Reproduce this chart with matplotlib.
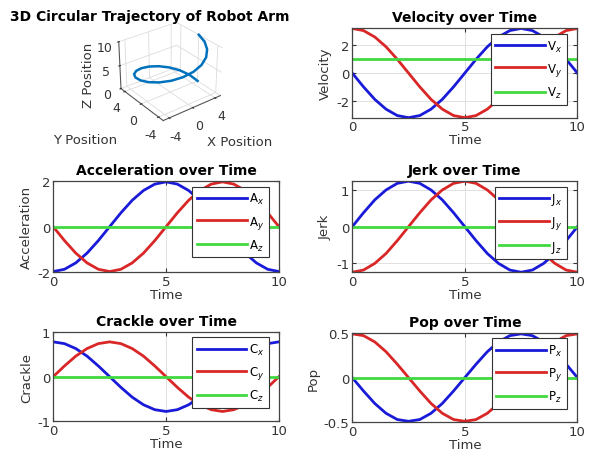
import matplotlib
matplotlib.use("Agg")
import matplotlib.pyplot as plt
from matplotlib.ticker import FormatStrFormatter

# time samples (0..10 s)
time = [0.0, 0.5, 1.0, 1.5, 2.0, 2.5, 3.0, 3.5, 4.0, 4.5, 5.0,
        5.5, 6.0, 6.5, 7.0, 7.5, 8.0, 8.5, 9.0, 9.5, 10.0]

# 3D trajectory
pos_x = [5.0, 4.76, 4.05, 2.94, 1.55, 0.0, -1.55, -2.94, -4.05, -4.76, -5.0,
         -4.76, -4.05, -2.94, -1.55, 0.0, 1.55, 2.94, 4.05, 4.76, 5.0]
pos_y = [0.0, 1.55, 2.94, 4.05, 4.76, 5.0, 4.76, 4.05, 2.94, 1.55, 0.0,
         -1.55, -2.94, -4.05, -4.76, -5.0, -4.76, -4.05, -2.94, -1.55, 0.0]
pos_z = [0.0, 0.5, 1.0, 1.5, 2.0, 2.5, 3.0, 3.5, 4.0, 4.5, 5.0,
         5.5, 6.0, 6.5, 7.0, 7.5, 8.0, 8.5, 9.0, 9.5, 10.0]

# velocity
vel_x = [0.0, -0.97, -1.85, -2.54, -2.99, -3.14, -2.99, -2.54, -1.85, -0.97, 0.0,
         0.97, 1.85, 2.54, 2.99, 3.14, 2.99, 2.54, 1.85, 0.97, 0.0]
vel_y = [3.14, 2.99, 2.54, 1.85, 0.97, 0.0, -0.97, -1.85, -2.54, -2.99, -3.14,
         -2.99, -2.54, -1.85, -0.97, 0.0, 0.97, 1.85, 2.54, 2.99, 3.14]
vel_z = [1.0] * 21

# acceleration
acc_x = [-1.97, -1.87, -1.59, -1.16, -0.61, 0.0, 0.61, 1.16, 1.59, 1.87, 1.97,
         1.87, 1.59, 1.16, 0.61, 0.0, -0.61, -1.16, -1.59, -1.87, -1.97]
acc_y = [0.0, -0.61, -1.16, -1.59, -1.87, -1.97, -1.87, -1.59, -1.16, -0.61, 0.0,
         0.61, 1.16, 1.59, 1.87, 1.97, 1.87, 1.59, 1.16, 0.61, 0.0]
acc_z = [0.0] * 21

# jerk
jerk_x = [0.0, 0.38, 0.73, 1.0, 1.18, 1.24, 1.18, 1.0, 0.73, 0.38, 0.0,
          -0.38, -0.73, -1.0, -1.18, -1.24, -1.18, -1.0, -0.73, -0.38, 0.0]
jerk_y = [-1.24, -1.18, -1.0, -0.73, -0.38, 0.0, 0.38, 0.73, 1.0, 1.18, 1.24,
          1.18, 1.0, 0.73, 0.38, 0.0, -0.38, -0.73, -1.0, -1.18, -1.24]
jerk_z = [0.0] * 21

# crackle
crk_x = [0.78, 0.74, 0.63, 0.46, 0.24, 0.0, -0.24, -0.46, -0.63, -0.74, -0.78,
         -0.74, -0.63, -0.46, -0.24, 0.0, 0.24, 0.46, 0.63, 0.74, 0.78]
crk_y = [0.0, 0.24, 0.46, 0.63, 0.74, 0.78, 0.74, 0.63, 0.46, 0.24, 0.0,
         -0.24, -0.46, -0.63, -0.74, -0.78, -0.74, -0.63, -0.46, -0.24, 0.0]
crk_z = [0.0] * 21

# pop
pop_x = [0.0, -0.15, -0.29, -0.4, -0.47, -0.49, -0.47, -0.4, -0.29, -0.15, 0.0,
         0.15, 0.29, 0.4, 0.47, 0.49, 0.47, 0.4, 0.29, 0.15, 0.0]
pop_y = [0.49, 0.47, 0.4, 0.29, 0.15, 0.0, -0.15, -0.29, -0.4, -0.47, -0.49,
         -0.47, -0.4, -0.29, -0.15, 0.0, 0.15, 0.29, 0.4, 0.47, 0.49]
pop_z = [0.0] * 21

plt.rcParams["font.family"] = "DejaVu Sans"
plt.rcParams["axes.unicode_minus"] = False
plt.rcParams["grid.color"] = "#dcdcdc"
plt.rcParams["grid.linewidth"] = 0.6

fig = plt.figure(figsize=(5.91, 4.60), dpi=100)
fig.patch.set_facecolor("white")

blue = (0.1, 0.1, 0.85)
red = (0.85, 0.15, 0.15)
green = (0.25, 0.85, 0.25)

# 3D panel
ax3 = fig.add_axes([0.163, 0.722, 0.245, 0.245], projection="3d")
ax3.plot(pos_x, pos_y, pos_z, color="#0072BD", lw=1.8)
ax3.view_init(elev=30, azim=-127.5)
ax3.set_xlim(-5, 5)
ax3.set_ylim(-5, 5)
ax3.set_zlim(0, 10)
ax3.set_xticks([-4, 0, 4])
ax3.set_yticks([-4, 0, 4])
ax3.set_zticks([0, 5, 10])
for axis in (ax3.xaxis, ax3.yaxis, ax3.zaxis):
    axis.set_pane_color((1, 1, 1, 0))
    axis.line.set_color("#555555")
ax3.tick_params(labelsize=9, pad=-2, colors="#333333")
# axis labels placed flat like the MATLAB original
fig.text(240 / 591, 1 - 143 / 460, "X Position", ha="center", va="center",
         fontsize=9.5, color="#333333")
fig.text(85 / 591, 1 - 140 / 460, "Y Position", ha="center", va="center",
         fontsize=9.5, color="#333333")
fig.text(88 / 591, 1 - 75 / 460, "Z Position", ha="center", va="center",
         fontsize=9.5, color="#333333", rotation=90)
fig.text(150 / 591, 1 - 17 / 460, "3D Circular Trajectory of Robot Arm",
         ha="center", va="center", fontsize=10, fontweight="bold")

panels = [
    ("Velocity over Time", "Velocity", "V", vel_x, vel_y, vel_z, (-3.14, 3.14), [-2, 0, 2]),
    ("Acceleration over Time", "Acceleration", "A", acc_x, acc_y, acc_z, (-2, 2), [-2, 0, 2]),
    ("Jerk over Time", "Jerk", "J", jerk_x, jerk_y, jerk_z, (-1.24, 1.24), [-1, 0, 1]),
    ("Crackle over Time", "Crackle", "C", crk_x, crk_y, crk_z, (-1, 1), [-1, 0, 1]),
    ("Pop over Time", "Pop", "P", pop_x, pop_y, pop_z, (-0.5, 0.5), [-0.5, 0, 0.5]),
]
rects = [
    [0.596, 0.742, 0.381, 0.194],
    [0.090, 0.406, 0.382, 0.198],
    [0.596, 0.406, 0.381, 0.198],
    [0.090, 0.082, 0.382, 0.194],
    [0.596, 0.080, 0.381, 0.194],
]

for rect, (title, ylab, sym, sx, sy, sz, ylim, yt) in zip(rects, panels):
    ax = fig.add_axes(rect)
    ax.plot(time, sx, color=blue, lw=2, label=sym + "$_x$")
    ax.plot(time, sy, color=red, lw=2, label=sym + "$_y$")
    ax.plot(time, sz, color=green, lw=2, label=sym + "$_z$")
    ax.set_xlim(0, 10)
    ax.set_ylim(*ylim)
    ax.set_xticks([0, 5, 10])
    ax.set_yticks(yt)
    ax.yaxis.set_major_formatter(FormatStrFormatter("%g"))
    ax.grid(True)
    ax.tick_params(direction="in", top=True, right=True, length=3,
                   labelsize=9.5, pad=2, colors="#333333")
    for sp in ax.spines.values():
        sp.set_color("#444444")
        sp.set_linewidth(0.9)
    ax.set_title(title, fontsize=10, fontweight="bold", pad=5)
    ax.set_xlabel("Time", fontsize=9.5, labelpad=0, color="#333333")
    ax.set_ylabel(ylab, fontsize=9.5, labelpad=3, color="#333333")
    leg = ax.legend(loc="upper right", bbox_to_anchor=(0.955, 0.94),
                    borderaxespad=0, fontsize=8.5, handlelength=4.2,
                    handletextpad=0.2, labelspacing=0.6, borderpad=0.4,
                    fancybox=False, framealpha=1)
    leg.get_frame().set_edgecolor("#333333")
    leg.get_frame().set_linewidth(0.8)

fig.savefig("out.png", dpi=100)
